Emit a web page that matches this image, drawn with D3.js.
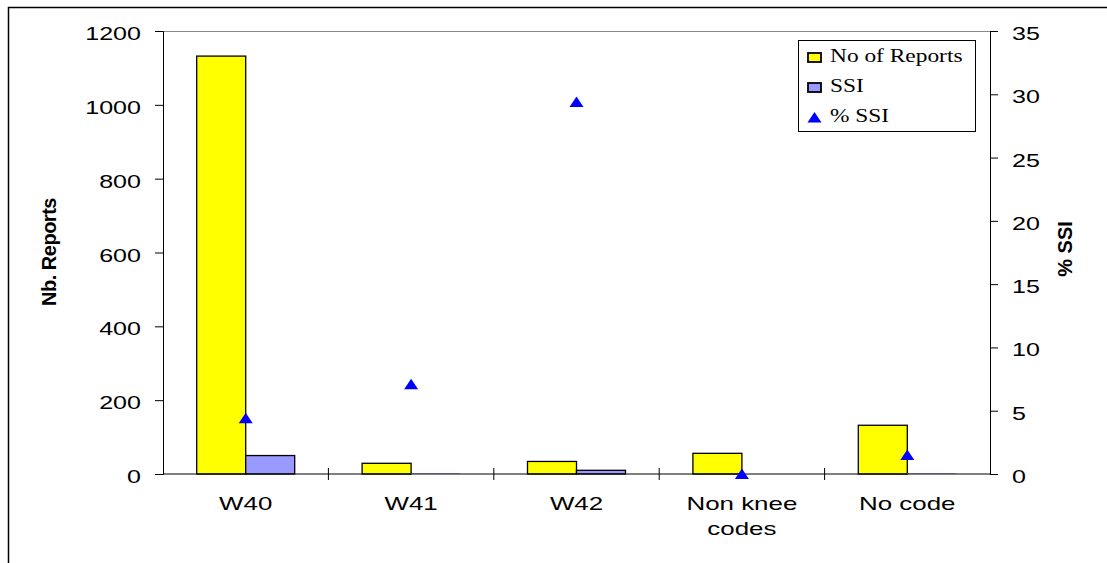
<!DOCTYPE html>
<html><head><meta charset="utf-8">
<script src="https://cdn.jsdelivr.net/npm/d3@7"></script>
<style>body{margin:0;background:#fff}svg{display:block}</style>
</head><body><svg id="c" width="1107" height="563"></svg>
<script>
const categories = [["W40"],["W41"],["W42"],["Non knee","codes"],["No code"]];
const reports = [1132, 29, 34, 56, 132];
const ssi = [50, 2, 10, 0, 2];
const pctSSI = [4.4, 7.1, 29.4, 0, 1.5];
const leftTicks = [0,200,400,600,800,1000,1200];
const rightTicks = [0,5,10,15,20,25,30,35];

const svg = d3.select("#c");
const L=163,R=990,T=31,B=474;
const SX=1.32;
svg.append("rect").attr("x",8.5).attr("y",7.5).attr("width",1120).attr("height",600).attr("fill","none").attr("stroke","#000").attr("stroke-width",1.5);

const x = d3.scaleBand().domain(d3.range(categories.length)).range([L,R]).padding(0);
const y = d3.scaleLinear().domain([0,1200]).range([B,T]);
const y2 = d3.scaleLinear().domain([0,35]).range([B,T]);
const bw = 49;

svg.append("line").attr("x1",L).attr("x2",R).attr("y1",T+0.5).attr("y2",T+0.5).attr("stroke","#888").attr("stroke-width",1);

const g = svg.append("g");
g.selectAll("rect.r").data(reports).join("rect").attr("class","r")
 .attr("x",(d,i)=>x(i)+x.bandwidth()/2-bw).attr("width",bw)
 .attr("y",d=>y(d)).attr("height",d=>B-y(d))
 .attr("fill","#ffff00").attr("stroke","#000").attr("stroke-width",1.3);
g.selectAll("rect.s").data(ssi).join("rect").attr("class","s")
 .attr("x",(d,i)=>x(i)+x.bandwidth()/2).attr("width",bw)
 .attr("y",d=>y(d)).attr("height",d=>B-y(d))
 .attr("fill","#9999ff").attr("stroke","#000").attr("stroke-width",d=>d>3?1.3:0);

const fmt = d3.format("d");
const la = d3.axisLeft(y).tickValues(leftTicks).tickFormat(fmt).tickSize(8).tickPadding(14);
const lg = svg.append("g").attr("transform",`translate(${L},0)`).call(la);
lg.select(".domain").attr("stroke","#000");
lg.selectAll("text").attr("font-family","Liberation Sans, Arial").attr("font-size",19).attr("fill","#000")
  .attr("x",-22/SX).attr("transform",`scale(${SX},1)`).attr("dy","0.45em");

const ra = d3.axisRight(y2).tickValues(rightTicks).tickFormat(fmt).tickSize(8).tickPadding(14);
const rg = svg.append("g").attr("transform",`translate(${R},0)`).call(ra);
rg.select(".domain").attr("stroke","#000");
rg.selectAll("text").attr("font-family","Liberation Sans, Arial").attr("font-size",19).attr("fill","#000")
  .attr("x",22/SX).attr("transform",`scale(${SX},1)`).attr("dy","0.45em");

svg.append("line").attr("x1",L).attr("x2",R).attr("y1",B).attr("y2",B).attr("stroke","#000").attr("stroke-width",1);
svg.selectAll("line.xt").data(d3.range(1,categories.length)).join("line").attr("class","xt")
 .attr("x1",i=>x(i)).attr("x2",i=>x(i)).attr("y1",B-6).attr("y2",B+6).attr("stroke","#000");
categories.forEach((c,i)=>{
  c.forEach((s,j)=>{
    svg.append("g").attr("transform",`translate(${x(i)+x.bandwidth()/2},${510+j*25}) scale(1.4,1)`)
     .append("text").attr("text-anchor","middle").attr("font-family","Liberation Sans, Arial").attr("font-size",18.5).text(s);
  });
});

const tri = "M0,-5.5L7,5L-7,5Z";
svg.selectAll("path.tri").data(pctSSI).join("path").attr("class","tri")
 .attr("transform",(d,i)=>`translate(${x(i)+x.bandwidth()/2},${y2(d)})`)
 .attr("d",tri).attr("fill","#0000ff");

svg.append("text").attr("transform","translate(56,252) rotate(-90)").attr("text-anchor","middle")
 .attr("font-family","Liberation Sans, Arial").attr("font-weight","bold").attr("font-size",20).attr("letter-spacing",-0.5).text("Nb. Reports");
svg.append("text").attr("transform","translate(1072,249) rotate(-90)").attr("text-anchor","middle")
 .attr("font-family","Liberation Sans, Arial").attr("font-weight","bold").attr("font-size",20).text("% SSI");

const lgd = svg.append("g");
lgd.append("rect").attr("x",798.5).attr("y",40.5).attr("width",177).attr("height",91).attr("fill","#fff").attr("stroke","#000").attr("stroke-width",1);
const items=[{t:"No of Reports",c:"#ffff00"},{t:"SSI",c:"#9999ff"},{t:"% SSI",c:null}];
items.forEach((it,i)=>{
  const cy = 57.5+i*30;
  if(it.c) lgd.append("rect").attr("x",808).attr("y",cy-4.5).attr("width",13).attr("height",9).attr("fill",it.c).attr("stroke","#000").attr("stroke-width",1.8);
  else lgd.append("path").attr("transform",`translate(814.5,${cy})`).attr("d",tri).attr("fill","#0000ff");
  lgd.append("g").attr("transform",`translate(830,${cy+4.5}) scale(1.3,1)`)
   .append("text").attr("font-family","Liberation Serif, Times New Roman").attr("font-size",18).text(it.t);
});
</script></body></html>
